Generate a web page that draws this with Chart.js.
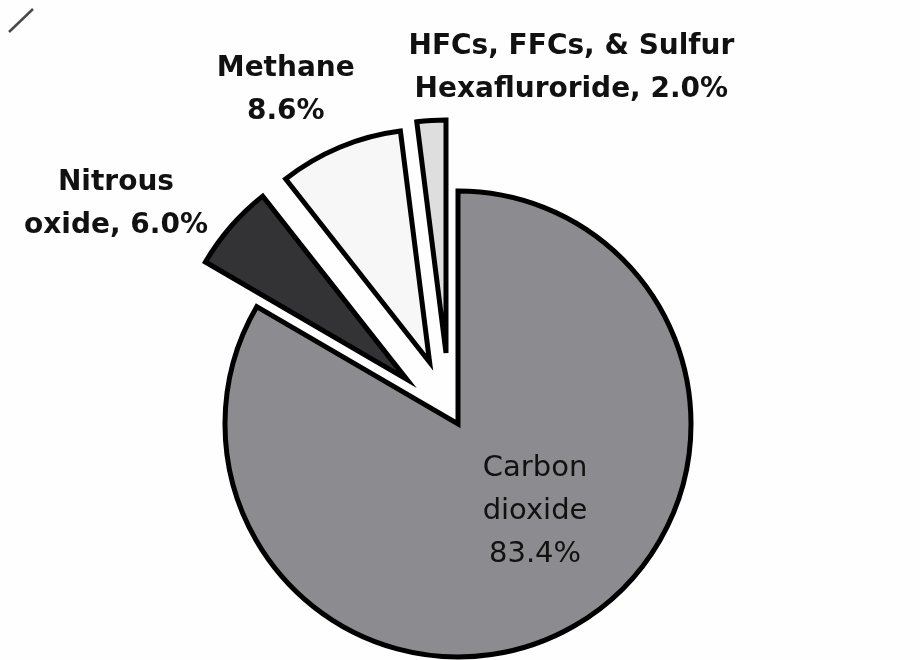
<!DOCTYPE html>
<html>
<head>
<meta charset="utf-8">
<title>Greenhouse gas emissions</title>
<script src="https://cdn.jsdelivr.net/npm/chart.js@4/dist/chart.umd.min.js"></script>
<style>
  html, body { margin: 0; padding: 0; background: #fefefe; }
  #wrap { width: 920px; height: 660px; position: relative; }
</style>
</head>
<body>
<div id="wrap"><canvas id="gasChart"></canvas></div>
<script>
// Share of emissions by gas (percent)
const categories = ['Carbon dioxide', 'Nitrous oxide', 'Methane', 'HFCs, FFCs, & Sulfur Hexafluroride'];
const shares = [83.4, 6.0, 8.6, 2.0];
// label text per slice, {v} is replaced by the share
const labelTemplates = [
  ['Carbon', 'dioxide', '{v}'],
  ['Nitrous', 'oxide, {v}'],
  ['Methane', '{v}'],
  ['HFCs, FFCs, & Sulfur', 'Hexafluroride, {v}']
];

const sliceColors = ['#8c8c90', '#333336', '#f7f7f7', '#dedede'];
// how far each slice is pulled out from the centre (px), and a small turn of that direction (deg)
const explode = [0, 68, 68, 72];
const explodeTurn = [0, 0, -2, -6];
// where the label sits: fraction of radius along the slice middle, then a nudge
const labelRadius = [0.5, 1, 1, 1];
const labelNudge = [[19, -16], [-115, -25], [-54, -60], [140, -55]];
const labelBold = [false, true, true, true];

const pieExtras = {
  id: 'pieExtras',
  beforeDatasetsDraw(chart) {
    // push the small slices outwards along their middle angle
    const meta = chart.getDatasetMeta(0);
    const area = chart.chartArea;
    const cx = (area.left + area.right) / 2 + (meta.controller.offsetX || 0);
    const cy = (area.top + area.bottom) / 2 + (meta.controller.offsetY || 0);
    meta.data.forEach((arc, i) => {
      const dir = (arc.startAngle + arc.endAngle) / 2 + explodeTurn[i] * Math.PI / 180;
      arc.x = cx + Math.cos(dir) * explode[i];
      arc.y = cy + Math.sin(dir) * explode[i];
    });
  },
  afterDatasetsDraw(chart) {
    const ctx = chart.ctx;
    const meta = chart.getDatasetMeta(0);
    ctx.save();
    ctx.fillStyle = '#111111';
    ctx.textAlign = 'center';
    ctx.textBaseline = 'alphabetic';
    meta.data.forEach((arc, i) => {
      const mid = (arc.startAngle + arc.endAngle) / 2;
      const r = arc.outerRadius * labelRadius[i];
      const x = arc.x + Math.cos(mid) * r + labelNudge[i][0];
      const y = arc.y + Math.sin(mid) * r + labelNudge[i][1];
      const size = labelBold[i] ? 28 : 29;
      const lh = 43;
      ctx.font = (labelBold[i] ? 'bold ' : '') + size + 'px "DejaVu Sans"';
      const lines = labelTemplates[i].map(t => t.replace('{v}', shares[i].toFixed(1) + '%'));
      lines.forEach((line, k) => {
        const base = y + (k - (lines.length - 1) / 2) * lh + size * 0.36;
        ctx.fillText(line, x, base);
      });
    });
    // small pen stroke in the top left corner
    ctx.strokeStyle = '#4a4a4a';
    ctx.lineWidth = 2.5;
    ctx.beginPath();
    ctx.moveTo(9, 32);
    ctx.lineTo(33, 9);
    ctx.stroke();
    ctx.restore();
  }
};

const ctx = document.getElementById('gasChart').getContext('2d');
const gasChart = new Chart(ctx, {
  type: 'pie',
  data: {
    labels: categories,
    datasets: [{
      data: shares,
      backgroundColor: sliceColors,
      borderColor: '#000000',
      borderWidth: 5,
      borderJoinStyle: 'miter',
      clip: false
    }]
  },
  options: {
    responsive: true,
    maintainAspectRatio: false,
    animation: false,
    radius: 233,
    layout: { padding: { left: 0, right: 4, top: 188, bottom: 0 } },
    plugins: {
      legend: { display: false },
      tooltip: { enabled: false }
    }
  },
  plugins: [pieExtras]
});
</script>
</body>
</html>
